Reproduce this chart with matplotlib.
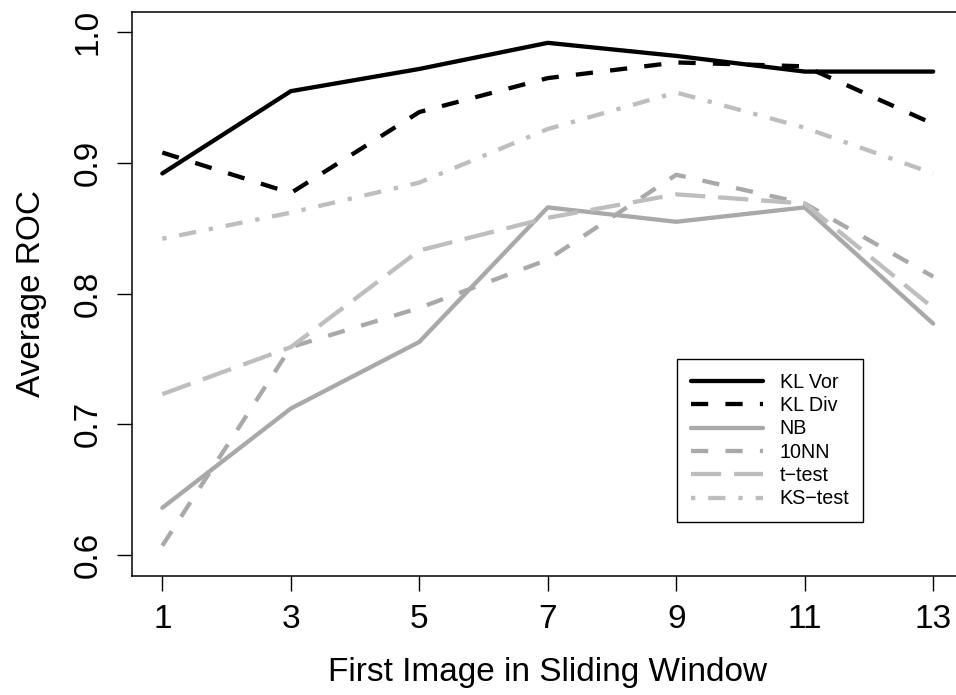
import matplotlib
matplotlib.use("Agg")
import matplotlib.pyplot as plt

plt.rcParams["font.family"] = ["Liberation Sans", "DejaVu Sans"]

# First image index of each sliding window
window_start = [1, 3, 5, 7, 9, 11, 13]

# Average ROC per method
kl_vor = [0.892, 0.955, 0.972, 0.992, 0.982, 0.970, 0.970]
kl_div = [0.908, 0.877, 0.939, 0.965, 0.977, 0.974, 0.930]
nb = [0.636, 0.712, 0.763, 0.866, 0.855, 0.866, 0.777]
nn10 = [0.607, 0.759, 0.789, 0.826, 0.891, 0.869, 0.813]
t_test = [0.723, 0.759, 0.833, 0.858, 0.876, 0.869, 0.789]
ks_test = [0.842, 0.862, 0.885, 0.926, 0.954, 0.927, 0.892]

labels = ["KL Vor", "KL Div", "NB", "10NN", "t\u2212test", "KS\u2212test"]
series = [kl_vor, kl_div, nb, nn10, t_test, ks_test]
colors = ["black", "black", "#A9A9A9", "#A9A9A9", "#BEBEBE", "#BEBEBE"]
dashes = [None, (4, 4), None, (4, 4), (7, 3), (1, 3, 4, 3)]

W, H = 956, 695
fig = plt.figure(figsize=(W / 100, H / 100), dpi=100)

# plot region in pixels (the right edge runs just past the canvas)
left, right, top, bottom = 131.5, 964.0, 11.5, 575.7
ax = fig.add_axes([left / W, 1 - bottom / H, (right - left) / W, (bottom - top) / H])

lw = 3.1
for y, lab, c, d in zip(series, labels, colors, dashes):
    if d is None:
        ax.plot(window_start, y, color=c, lw=lw, label=lab,
                solid_capstyle="round", solid_joinstyle="round")
    else:
        ax.plot(window_start, y, color=c, lw=lw, label=lab, dashes=d,
                dash_capstyle="butt", dash_joinstyle="round")

ax.set_xlim(0.52, 13.48)
ax.set_ylim(0.584, 1.016)
ax.set_xticks(window_start)
ax.set_yticks([0.6, 0.7, 0.8, 0.9, 1.0])
ax.set_yticklabels(["0.6", "0.7", "0.8", "0.9", "1.0"], rotation=90, va="center")
ax.tick_params(axis="both", direction="out", length=10.8, width=1.0,
               labelsize=24, pad=9.5, color="black")
for s in ax.spines.values():
    s.set_linewidth(1.1)

# axis titles, placed by baseline
fig.text(((left + right) / 2) / W, 1 - 681 / H, "First Image in Sliding Window",
         fontsize=24, ha="center", va="baseline")
fig.text(40 / W, 1 - ((top + bottom) / 2) / H, "Average ROC", fontsize=24,
         rotation=90, rotation_mode="anchor", ha="center", va="baseline")

leg = ax.legend(loc="upper left",
                bbox_to_anchor=((677 - left) / (right - left), (bottom - 359) / (bottom - top)),
                frameon=True, fancybox=False, edgecolor="black", framealpha=1,
                fontsize=14.2, handlelength=3.65, handletextpad=0.85,
                labelspacing=0.22, borderpad=0.7, borderaxespad=0)
leg.get_frame().set_linewidth(1.0)

fig.savefig("out.png", dpi=100)
